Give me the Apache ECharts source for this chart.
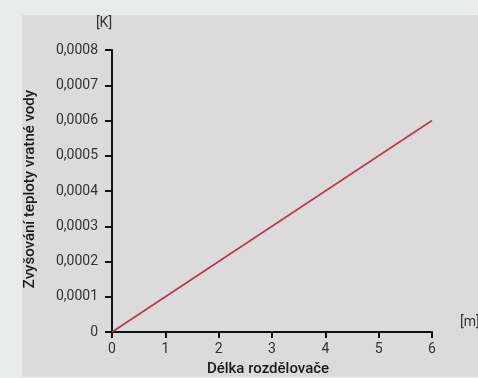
<!DOCTYPE html>
<html>
<head>
<meta charset="utf-8">
<script src="https://cdn.jsdelivr.net/npm/echarts@6/dist/echarts.min.js"></script>
<style>
html,body{margin:0;padding:0;background:#eaeceb;}
#c{width:478px;height:378px;}
</style>
</head>
<body>
<div id="c"></div>
<script>
var xValues = [0, 1, 2, 3, 4, 5, 6];
var yValues = [0, 0.0001, 0.0002, 0.0003, 0.0004, 0.0005, 0.0006];
var xTickLabels = ['0', '1', '2', '3', '4', '5', '6'];
var yTickLabels = ['0', '0,0001', '0,0002', '0,0003', '0,0004', '0,0005', '0,0006', '0,0007', '0,0008'];
var xTitle = 'Délka rozdělovače';
var yTitle = 'Zvyšování teploty vratné vody';
var xUnit = '[m]';
var yUnit = '[K]';

var chart = echarts.init(document.getElementById('c'), null, {renderer: 'canvas'});
var font = 'Roboto, "Noto Sans", sans-serif';
chart.setOption({
  backgroundColor: '#eaeceb',
  animation: false,
  grid: {left: 112, top: 50, right: 46, bottom: 46, containLabel: false},
  graphic: [
    {type: 'rect', z: -10, shape: {x: 22, y: 15, width: 460, height: 362}, style: {fill: '#dadbda'}},
    {type: 'text', x: 30, y: 189, rotation: Math.PI / 2, style: {text: yTitle, fill: '#1a1a1a', font: '500 15px ' + font, align: 'center', verticalAlign: 'middle'}},
    {type: 'text', x: 268, y: 369, style: {text: xTitle, fill: '#1a1a1a', font: '500 15px ' + font, align: 'center', verticalAlign: 'middle'}},
    {type: 'text', x: 104, y: 23, style: {text: yUnit, fill: '#333', font: '14px ' + font, align: 'center', verticalAlign: 'middle'}},
    {type: 'text', x: 460, y: 322, style: {text: xUnit, fill: '#333', font: '14px ' + font, align: 'left', verticalAlign: 'middle'}}
  ],
  xAxis: {
    type: 'value', min: 0, max: 6, interval: 1,
    axisLine: {show: true, lineStyle: {color: '#111', width: 2}},
    axisTick: {show: true, length: 6, lineStyle: {color: '#111', width: 2}},
    axisLabel: {color: '#333', fontSize: 14, fontFamily: font, margin: 10,
      formatter: function (v) { return xTickLabels[Math.round(v)]; }},
    splitLine: {show: false}
  },
  yAxis: {
    type: 'value', min: 0, max: 0.0008, interval: 0.0001,
    axisLine: {show: true, lineStyle: {color: '#111', width: 2}},
    axisTick: {show: true, length: 7, lineStyle: {color: '#111', width: 2}},
    axisLabel: {color: '#333', fontSize: 14, fontFamily: font, margin: 14, padding: [0, 0, 11, 0],
      formatter: function (v) { return yTickLabels[Math.round(v / 0.0001)]; }},
    splitLine: {show: false}
  },
  series: [{
    type: 'line',
    data: xValues.map(function (x, i) { return [x, yValues[i]]; }),
    showSymbol: false,
    lineStyle: {color: '#c3344a', width: 1.6}
  }]
});
</script>
</body>
</html>
